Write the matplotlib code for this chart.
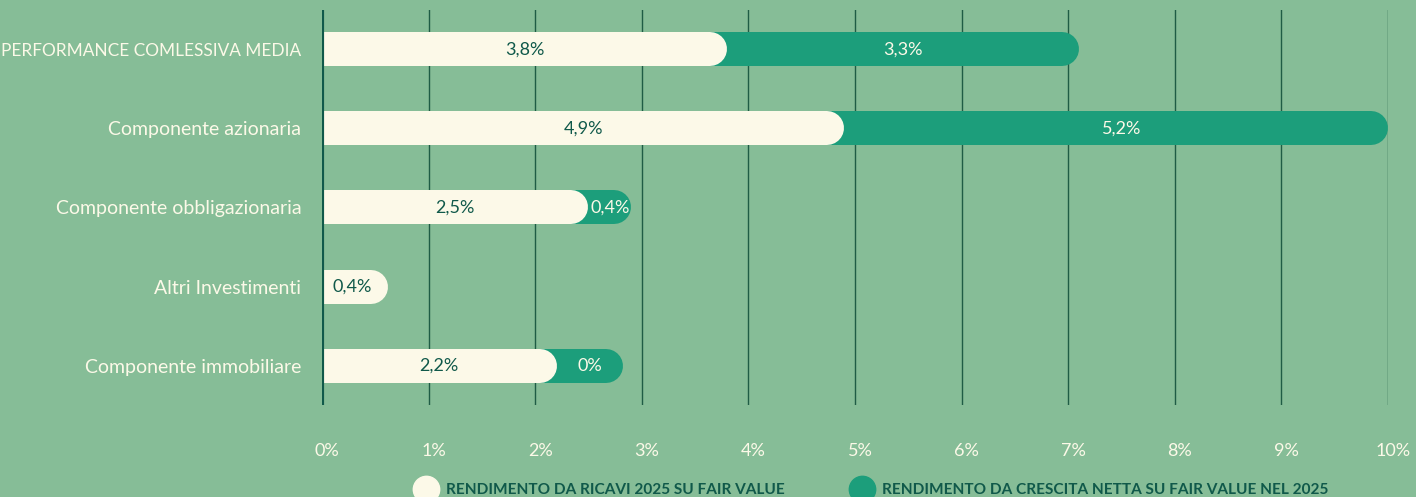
import matplotlib.pyplot as plt
import matplotlib.transforms as mtrans
from matplotlib.lines import Line2D

# dati
categorie = ["PERFORMANCE COMLESSIVA MEDIA", "Componente azionaria",
             "Componente obbligazionaria", "Altri Investimenti",
             "Componente immobiliare"]
ricavi = [3.8, 4.9, 2.5, 0.4, 2.2]
crescita = [3.3, 5.2, 0.4, None, 0.0]
etichette_ricavi = ["3,8%", "4,9%", "2,5%", "0,4%", "2,2%"]
etichette_crescita = ["3,3%", "5,2%", "0,4%", None, "0%"]
tick_x = [0, 1, 2, 3, 4, 5, 6, 7, 8, 9, 10]
legenda = ["RENDIMENTO DA RICAVI 2025 SU FAIR VALUE",
           "RENDIMENTO DA CRESCITA NETTA SU FAIR VALUE NEL 2025"]

SFONDO = "#86bd97"
CREMA = "#fcf9e8"
TEAL = "#1c9e7b"
SCURO = "#10594a"

plt.rcParams["font.family"] = ["Lato", "DejaVu Sans"]

fig = plt.figure(figsize=(14.16, 4.97), dpi=100, facecolor=SFONDO)
ax = fig.add_axes([0.2274, 0.185, 0.7528, 0.795], facecolor=SFONDO)

ax.set_xlim(0, 10)
ax.set_ylim(4.5, -0.5)

# raggio del cappuccio arrotondato in unità dati (17 px)
lw_px = 34
lw_pt = lw_px * 72 / fig.dpi
r = (lw_px / 2) / (0.7528 * 1416) * 10
min_seg = 0.62  # larghezza visibile per i segmenti a 0%

for i in range(len(categorie)):
    a = ricavi[i]
    b = crescita[i]
    if b is not None:
        larg = b if b > 0 else min_seg
        fine = min(a + larg, 10)
        ax.plot([a - r, fine - r], [i, i], color=TEAL, lw=lw_pt,
                solid_capstyle="round", zorder=3)
        ax.text(a + larg / 2, i, etichette_crescita[i], color=CREMA,
                ha="center", va="center", fontsize=13, zorder=5)
    fine_a = max(a, 2 * r + 0.3)
    ax.plot([-1, fine_a - r], [i, i], color=CREMA, lw=lw_pt,
            solid_capstyle="round", zorder=4)
    ax.text(max(a / 2, 0.28), i, etichette_ricavi[i], color=SCURO,
            ha="center", va="center", fontsize=13, zorder=5)

ax.set_yticks(range(len(categorie)))
ax.set_yticklabels(categorie, color=CREMA, fontsize=14)
ax.get_yticklabels()[0].set_fontsize(12.4)
ax.set_xticks(tick_x)
ax.set_xticklabels([f"{t}%" for t in tick_x], color=CREMA, fontsize=13)
ax.tick_params(axis="y", length=0, pad=15)
ax.tick_params(axis="x", length=0, pad=27)
sposta = mtrans.ScaledTranslation(5 / 100, 0, fig.dpi_scale_trans)
for lab in ax.get_xticklabels():
    lab.set_transform(lab.get_transform() + sposta)

ax.grid(axis="x", color="#1f5c45", lw=1, zorder=1)
ax.axvline(0, color=SCURO, lw=3, zorder=6)
for s in ax.spines.values():
    s.set_visible(False)

maniglie = [Line2D([], [], marker="o", ls="", markersize=19, color=CREMA),
            Line2D([], [], marker="o", ls="", markersize=19, color=TEAL)]
leg = fig.legend(maniglie, legenda, loc="center", bbox_to_anchor=(0.614, 0.014),
                 ncol=2, frameon=False, handletextpad=0.3, columnspacing=4.0,
                 prop={"weight": "bold", "size": 11.1})
for t in leg.get_texts():
    t.set_color(SCURO)

fig.savefig("out.png", dpi=100, facecolor=SFONDO)
